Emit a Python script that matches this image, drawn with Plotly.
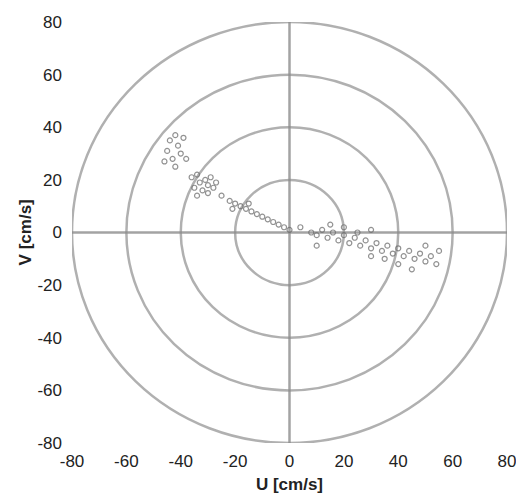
import plotly.graph_objects as go

# Velocity samples (cm/s)
U = [-44, -42, -45, -41, -43, -40, -46, -39, -42, -38,
     -36, -34, -33, -31, -30, -32, -35, -29, -28, -34, -30, -27,
     -25, -22, -20, -18, -16, -14, -12, -10, -8, -6, -4, -2, 0, -21, -15,
     4, 8, 10, 12, 14, 16, 18, 20, 22, 24, 26, 28, 30, 32, 34, 36, 38, 40,
     42, 44, 46, 48, 50, 52, 54, 40, 45, 35, 30, 25, 15, 20, 50, 55, 10, 30]
V = [35, 37, 31, 33, 28, 30, 27, 36, 25, 28,
     21, 22, 19, 20, 18, 16, 17, 21, 17, 14, 15, 19,
     14, 12, 11, 10, 9, 8, 7, 6, 5, 4, 3, 2, 1, 9, 11,
     2, 0, -1, 1, -2, 0, -3, -1, -4, -2, -5, -3, -6, -4, -7, -5, -8, -6,
     -9, -7, -10, -8, -11, -9, -12, -12, -14, -10, -9, 0, 3, 2, -5, -7, -5, 1]

radii = [20, 40, 60, 80]
ticks = [-80, -60, -40, -20, 0, 20, 40, 60, 80]
tick_text = [str(t) for t in ticks]
axis_limit = 80

fig = go.Figure()

shapes = []
for r in radii:
    shapes.append(dict(type="circle", xref="x", yref="y", x0=-r, y0=-r, x1=r, y1=r,
                       line=dict(color="rgba(150,150,150,0.75)", width=2.5), layer="below"))
shapes.append(dict(type="line", xref="x", yref="y", x0=-axis_limit, y0=0, x1=axis_limit, y1=0,
                   line=dict(color="rgba(140,140,140,0.8)", width=2.5), layer="below"))
shapes.append(dict(type="line", xref="x", yref="y", x0=0, y0=-axis_limit, x1=0, y1=axis_limit,
                   line=dict(color="rgba(140,140,140,0.8)", width=2.5), layer="below"))

fig.add_trace(go.Scatter(
    x=U, y=V, mode="markers",
    marker=dict(symbol="circle-open", size=5, color="rgba(110,110,110,0.75)",
                line=dict(width=1.2)),
    showlegend=False, hoverinfo="x+y"))

fig.update_layout(
    width=516, height=495,
    margin=dict(l=72, r=9, t=22, b=52),
    paper_bgcolor="white", plot_bgcolor="white",
    shapes=shapes,
    font=dict(family="Liberation Sans, Arial, sans-serif", size=17, color="#222"),
    xaxis=dict(range=[-axis_limit, axis_limit], tickvals=ticks, ticktext=tick_text,
               showgrid=False, zeroline=False, showline=False, ticks="",
               automargin=False,
               ticklabelstandoff=6, ticklabeloverflow="allow",
               title=dict(text="<b>U [cm/s]</b>", font=dict(size=17), standoff=8)),
    yaxis=dict(range=[-axis_limit, axis_limit], tickvals=ticks, ticktext=tick_text,
               showgrid=False, zeroline=False, showline=False, ticks="",
               automargin=False,
               ticklabelstandoff=9, ticklabeloverflow="allow"),
    annotations=[dict(text="<b>V [cm/s]</b>", xref="paper", yref="paper",
                      x=-0.106, y=0.5, textangle=-90, showarrow=False,
                      xanchor="center", yanchor="middle", font=dict(size=17))],
)

fig.write_html("out.html")
